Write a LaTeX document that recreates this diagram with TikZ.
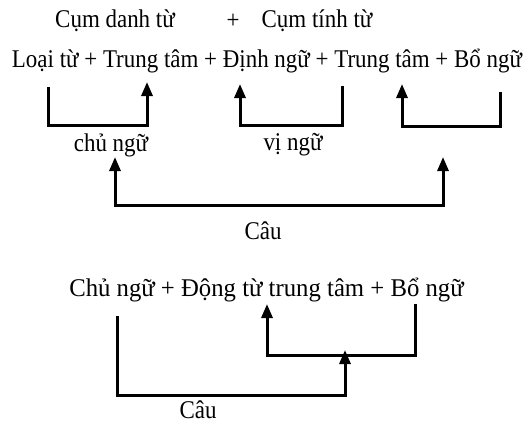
\documentclass[tikz,border=0pt]{standalone}
\usepackage{fontspec}
\setmainfont{Liberation Serif}[FakeStretch=0.9]
\newfontfamily\lineb{Liberation Serif}[FakeStretch=0.97]
\usetikzlibrary{arrows.meta}
\begin{document}
\begin{tikzpicture}[x=1pt,y=-1pt,
  lbl/.style={inner sep=0pt,font=\fontsize{25.5}{28}\selectfont},
  lblb/.style={inner sep=0pt,font=\lineb\fontsize{25.5}{28}\selectfont},
  conn/.style={line width=3pt,line cap=rect},
  arr/.style={line width=3pt,-{Triangle[length=14pt,width=11pt]}}]
\useasboundingbox (0,0) rectangle (532,424);
% texts
\node[lbl] (cdt) at (115,21) {Cụm danh từ};
\node[lbl] (plus) at (233,21) {+};
\node[lbl] (ctt) at (317,21) {Cụm tính từ};
\node[lbl] (l1) at (267,61) {Loại từ + Trung tâm + Định ngữ + Trung tâm + Bổ ngữ};
\node[lbl] (cn) at (111,145) {chủ ngữ};
\node[lbl] (vn) at (293,145) {vị ngữ};
\node[lbl] (cau1) at (263,231) {Câu};
\node[lblb] (l2) at (266.5,290) {Chủ ngữ + Động từ trung tâm + Bổ ngữ};
\node[lbl] (cau2) at (198,410) {Câu};
% coordinates
\coordinate (a1) at (48,88);  \coordinate (a2) at (48,125);
\coordinate (a3) at (147,125); \coordinate (a4) at (147,82);
\coordinate (b1) at (342,87); \coordinate (b2) at (342,125);
\coordinate (b3) at (240,125); \coordinate (b4) at (240,84);
\coordinate (c1) at (500,93); \coordinate (c2) at (500,126);
\coordinate (c3) at (402,126); \coordinate (c4) at (402,84);
\coordinate (d1) at (115,205); \coordinate (d2) at (115,157);
\coordinate (d3) at (443,205); \coordinate (d4) at (443,157);
\coordinate (e1) at (117,317); \coordinate (e2) at (117,395);
\coordinate (e3) at (345,395); \coordinate (e4) at (345,350);
\coordinate (f1) at (415,305); \coordinate (f2) at (415,355);
\coordinate (f3) at (267,355); \coordinate (f4) at (267,304);
% connectors
\draw[conn] (a1) -- (a2) -- (a3);
\draw[arr] (a3) -- (a4);
\draw[conn] (b1) -- (b2) -- (b3);
\draw[arr] (b3) -- (b4);
\draw[conn] (c1) -- (c2) -- (c3);
\draw[arr] (c3) -- (c4);
\draw[conn] (d2|-d1) -- (d3);
\draw[arr] (d1) -- (d2);
\draw[arr] (d3) -- (d4);
\draw[conn] (e1) -- (e2) -- (e3);
\draw[arr] (e3) -- (e4);
\draw[conn] (f1) -- (f2) -- (f3);
\draw[arr] (f3) -- (f4);
\end{tikzpicture}
\end{document}
